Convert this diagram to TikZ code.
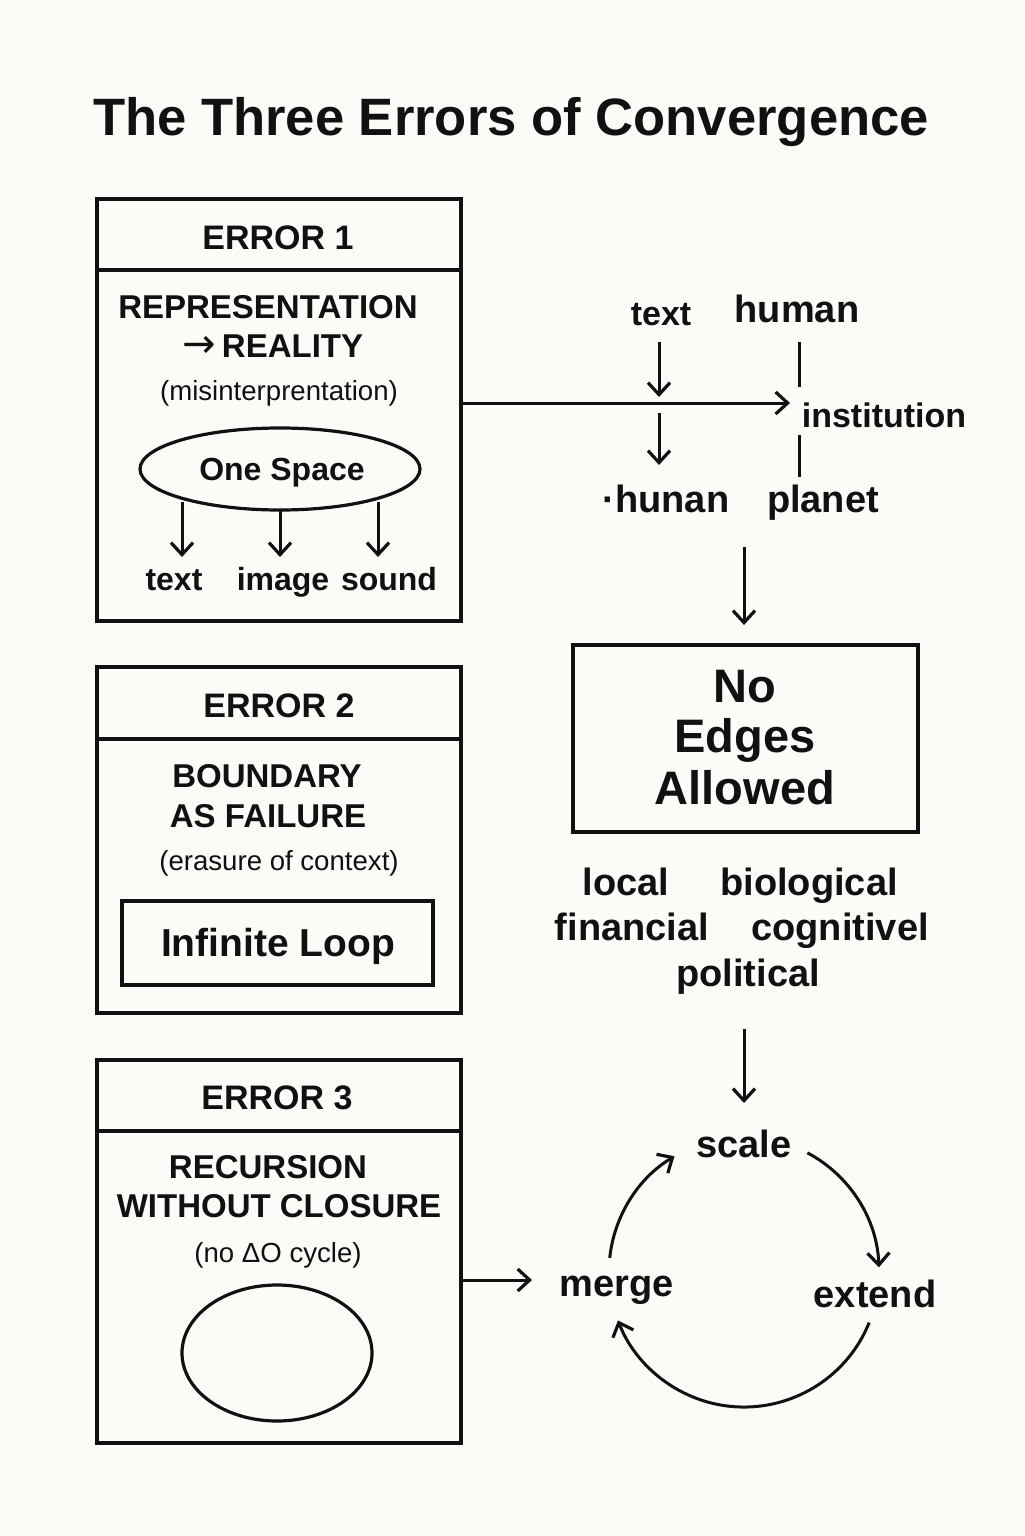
\documentclass[tikz,border=0pt]{standalone}
\usepackage{fontspec}
\setmainfont{Liberation Sans}
\newfontfamily\symfont{DejaVu Sans}
\usetikzlibrary{arrows.meta,shapes.geometric,calc}
\definecolor{bgc}{RGB}{252,251,248}
\definecolor{ink}{RGB}{17,17,17}
\newcommand{\fsz}[1]{\fontsize{#1}{#1}\selectfont}
\begin{document}
\begin{tikzpicture}[x=0.5pt,y=-0.5pt,
  box/.style={draw=ink, line width=1.6pt},
  arr/.style={draw=ink, line width=1.5pt, -{Straight Barb[length=6pt,width=11pt,line width=1.6pt]}},
  ln/.style={draw=ink, line width=1.5pt},
  t/.style={inner sep=0pt, anchor=base, text=ink},
  hd/.style={t, font=\fsz{17}\bfseries},
  ttl/.style={t, font=\fsz{16.5}\bfseries},
  sub/.style={t, font=\fsz{13.8}},
  wd/.style={t, font=\fsz{17}\bfseries},
  big/.style={t, font=\fsz{19}\bfseries},
]
\fill[bgc] (0,0) rectangle (1024,1536);
\useasboundingbox (0,0) rectangle (1024,1536);

% title
\node[t, font=\fsz{26.3}\bfseries] (title) at (511,135) {The Three Errors of Convergence};

% ---------- Box 1 ----------
\draw[box] (97,199) rectangle (461,621);
\draw[box] (97,270) -- (461,270);
\node[hd] (e1) at (278,249) {ERROR 1};
\node[ttl] (rep) at (268,318) {REPRESENTATION};
\node[ttl] (real) at (273,357) {{\symfont\mdseries\fsz{20}→}\,REALITY};
\node[sub] (mis) at (279,400) {(misinterprentation)};
\node[ellipse, draw=ink, line width=1.6pt, minimum width=140pt, minimum height=41pt, inner sep=0pt] (os) at (280,469) {};
\node[t, font=\fsz{16}\bfseries] (ost) at (282,480) {One Space};
\node[t, font=\fsz{16}\bfseries] (tx1) at (174,590) {text};
\node[t, font=\fsz{16}\bfseries] (img) at (283,590) {image};
\node[t, font=\fsz{16}\bfseries] (snd) at (389,590) {sound};
\coordinate (o1) at (182,502);
\coordinate (o2) at (280,510);
\coordinate (o3) at (378,502);
\coordinate (a1) at (182,557);
\coordinate (a2) at (280,557);
\coordinate (a3) at (378,557);
\draw[arr] (o1) -- (a1);
\draw[arr] (o2) -- (a2);
\draw[arr] (o3) -- (a3);

% ---------- right top ----------
\coordinate (b1r) at (461,403);
\coordinate (hend) at (790,403);
\draw[arr] (b1r) -- (hend);
\node[wd] (txt) at (661,325) {text};
\node[big] (hum) at (797,322) {human};
\node[wd] (inst) at (884,427) {institution};
\node[big] (hun) at (666,512) {·hunan};
\node[big] (pla) at (823,512) {planet};
\coordinate (t1a) at (659,342); \coordinate (t1b) at (659,397);
\coordinate (t2a) at (659,413); \coordinate (t2b) at (659,465);
\draw[arr] (t1a) -- (t1b);
\draw[arr] (t2a) -- (t2b);
\coordinate (v1a) at (799,342); \coordinate (v1b) at (799,387);
\coordinate (v2a) at (799,435); \coordinate (v2b) at (799,477);
\draw[ln] (v1a) -- (v1b);
\draw[ln] (v2a) -- (v2b);
\coordinate (d1a) at (744,547); \coordinate (d1b) at (744,625);
\draw[arr] (d1a) -- (d1b);

% No Edges box
\draw[box] (573,645) rectangle (918,832);
\node[t, font=\fsz{23.5}\bfseries] (no) at (745,702) {No};
\node[t, font=\fsz{23.5}\bfseries] (edg) at (745,752) {Edges};
\node[t, font=\fsz{23.5}\bfseries] (all) at (745,804) {Allowed};

\node[big] (loc) at (626,895) {local};
\node[big] (bio) at (809,895) {biological};
\node[big] (fin) at (632,940) {financial};
\node[big] (cog) at (840,940) {cognitivel};
\node[big] (pol) at (748,986) {political};

\coordinate (d2a) at (744,1029); \coordinate (d2b) at (744,1103);
\draw[arr] (d2a) -- (d2b);

% ---------- Box 2 ----------
\draw[box] (97,667) rectangle (461,1013);
\draw[box] (97,739) -- (461,739);
\node[hd] (e2) at (279,717) {ERROR 2};
\node[ttl] (bnd) at (267,787) {BOUNDARY};
\node[ttl] (asf) at (268,827) {AS FAILURE};
\node[sub] (era) at (279,870) {(erasure of context)};
\draw[box] (122,901) rectangle (433,985);
\node[t, font=\fsz{19.5}\bfseries] (inf) at (278,956) {Infinite Loop};

% ---------- Box 3 ----------
\draw[box] (97,1060) rectangle (461,1443);
\draw[box] (97,1131) -- (461,1131);
\node[hd] (e3) at (277,1109) {ERROR 3};
\node[ttl] (rec) at (268,1178) {RECURSION};
\node[ttl] (wit) at (279,1217) {WITHOUT CLOSURE};
\node[sub] (noc) at (278,1262) {(no ΔO cycle)};
\node[ellipse, draw=ink, line width=1.6pt, minimum width=95pt, minimum height=68pt, inner sep=0pt] (ell) at (277,1353) {};

\coordinate (b3r) at (461,1280);
\coordinate (b3e) at (532,1280);
\draw[arr] (b3r) -- (b3e);

% ---------- cycle ----------
\node[big] (scl) at (744,1157) {scale};
\node[big] (mrg) at (617,1296) {merge};
\node[big] (ext) at (875,1307) {extend};
\coordinate (cc) at (744,1272);
\draw[arr] ($(cc)+(-174:135)$) arc[start angle=-174, end angle=-121, radius=135];
\draw[arr] ($(cc)+(-62:135)$) arc[start angle=-62, end angle=-2, radius=135];
\draw[arr] ($(cc)+(22:135)$) arc[start angle=22, end angle=159, radius=135];
\end{tikzpicture}
\end{document}
